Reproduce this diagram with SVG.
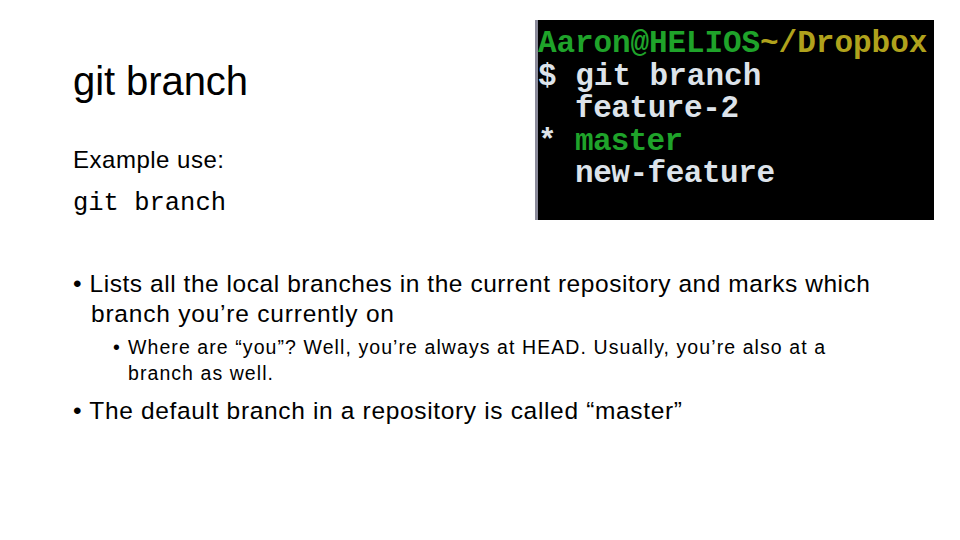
<svg xmlns="http://www.w3.org/2000/svg" width="960" height="540" viewBox="0 0 960 540">
<style>
.s{font-family:"Liberation Sans",Arial,sans-serif;fill:#000}
.m{font-family:"Liberation Mono","DejaVu Sans Mono",monospace}
.t{font-family:"Liberation Mono","DejaVu Sans Mono",monospace;font-size:31px;font-weight:bold}
</style>
<defs><clipPath id="c"><rect x="535" y="20" width="399" height="200"/></clipPath></defs>
<rect width="960" height="540" fill="#fff"/>
<text class="s" x="73" y="95" font-size="40" textLength="175">git branch</text>
<text class="s" x="73" y="168" font-size="24" textLength="151">Example use:</text>
<text class="m" x="73" y="210" font-size="25.5">git branch</text>
<g id="terminal">
<rect x="535" y="20" width="399" height="200" fill="#000"/>
<rect x="535" y="20" width="3" height="200" fill="#8a8a9a"/>
<g clip-path="url(#c)">
<text class="t" x="538" y="52" fill="#1fa32a" textLength="222">Aaron@HELIOS</text>
<text class="t" x="760" y="52" fill="#b0a21c">~/Dropbox</text>
<text class="t" x="538" y="85" fill="#dde3ea">$ git branch</text>
<text class="t" x="575" y="117" fill="#dde3ea" textLength="164">feature-2</text>
<text class="t" x="538" y="150" fill="#dde3ea">*</text>
<text class="t" x="575" y="150" fill="#1fa32a" textLength="108">master</text>
<text class="t" x="575" y="182" fill="#dde3ea" textLength="200">new-feature</text>
</g>
</g>
<text class="s" x="73" y="292" font-size="24.5" textLength="797">• Lists all the local branches in the current repository and marks which</text>
<text class="s" x="91" y="322" font-size="24.5" textLength="303">branch you’re currently on</text>
<text class="s" x="113" y="354" font-size="19.5">•</text>
<text class="s" x="128" y="354" font-size="19.5" textLength="697">Where are “you”? Well, you’re always at HEAD. Usually, you’re also at a</text>
<text class="s" x="128" y="380" font-size="19.5" textLength="145">branch as well.</text>
<text class="s" x="73" y="419" font-size="24.5" textLength="609">• The default branch in a repository is called “master”</text>
</svg>
